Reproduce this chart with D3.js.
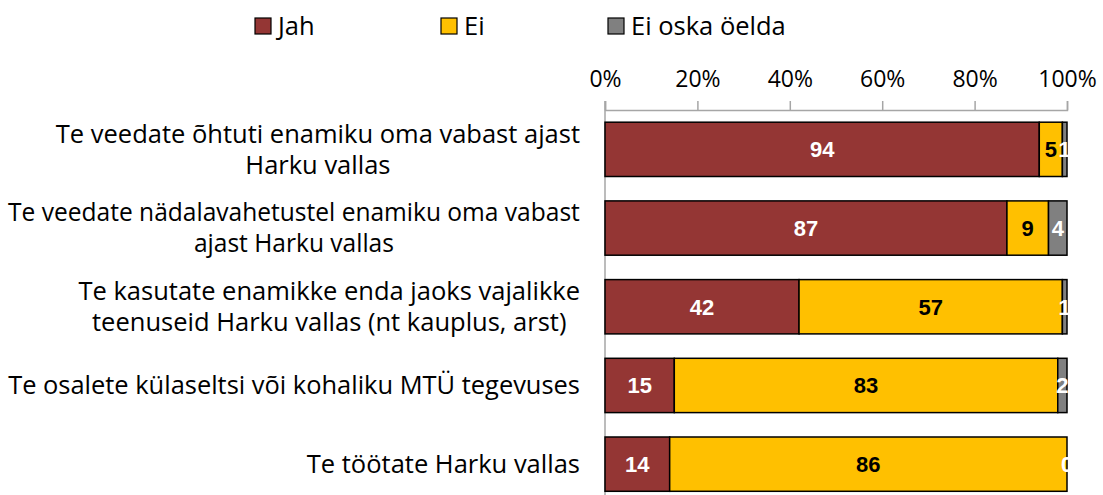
<!DOCTYPE html>
<html>
<head>
<meta charset="utf-8">
<script src="https://cdn.jsdelivr.net/npm/d3@7"></script>
<style>
  body { margin: 0; background: #fff; }
  svg { display: block; }
</style>
</head>
<body>
<script>
// data
const categories = [
    ["Te veedate õhtuti enamiku oma vabast ajast", "Harku vallas"],
    ["Te veedate nädalavahetustel enamiku oma vabast", "ajast Harku vallas"],
    ["Te kasutate enamikke enda jaoks vajalikke", "teenuseid Harku vallas (nt kauplus, arst)"],
    ["Te osalete külaseltsi või kohaliku MTÜ tegevuses"],
    ["Te töötate Harku vallas"]
];
const seriesNames = ["Jah", "Ei", "Ei oska öelda"];
const jah = [94, 87, 42, 15, 14];
const ei = [5, 9, 57, 83, 86];
const eiOska = [1, 4, 1, 2, 0];
const tickValues = [0, 20, 40, 60, 80, 100];

const colors = ["#943634", "#FFC000", "#808080"];
const labelColors = ["#fff", "#000", "#fff"];
const font = "'Open Sans', Lato, sans-serif";

const width = 1103, height = 495;
const margin = {top: 110, left: 605, right: 36};

const rows = categories.map((c, i) => ({idx: i, "Jah": jah[i], "Ei": ei[i], "Ei oska öelda": eiOska[i]}));

const svg = d3.select("body").append("svg")
    .attr("width", width)
    .attr("height", height);

const x = d3.scaleLinear()
    .domain([0, 100])
    .range([margin.left, width - margin.right]);

const y = d3.scaleBand()
    .domain(d3.range(categories.length))
    .range([margin.top, margin.top + 78.7 * categories.length])
    .paddingInner(0.31)
    .paddingOuter(0.155);

// top axis
const xaxis = d3.axisTop(x)
    .tickValues(tickValues)
    .tickFormat(d => d + "%")
    .tickSize(9)
    .tickPadding(14);

const gx = svg.append("g")
    .attr("transform", `translate(0, ${margin.top})`)
    .call(xaxis);
gx.select(".domain").attr("stroke", "#a6a6a6").attr("stroke-width", 1.5);
gx.selectAll(".tick line").attr("stroke", "#a6a6a6").attr("stroke-width", 1.5);
gx.selectAll(".tick text")
    .attr("font-family", font)
    .attr("font-size", 23)
    .attr("fill", "#000");

// left axis line
svg.append("line")
    .attr("x1", x(0)).attr("x2", x(0))
    .attr("y1", margin.top - 9).attr("y2", height)
    .attr("stroke", "#a6a6a6")
    .attr("stroke-width", 1.5);

const stack = d3.stack().keys(seriesNames);
const stacked = stack(rows);

const layers = svg.selectAll("g.layer")
    .data(stacked)
    .enter()
    .append("g")
    .attr("class", "layer")
    .attr("fill", (d, i) => colors[i]);

layers.selectAll("rect")
    .data(d => d)
    .enter()
    .append("rect")
    .attr("x", d => x(d[0]))
    .attr("y", d => y(d.data.idx))
    .attr("width", d => x(d[1]) - x(d[0]))
    .attr("height", y.bandwidth())
    .attr("stroke", "#000")
    .attr("stroke-width", 1.5);

// value labels
stacked.forEach((layer, si) => {
    svg.append("g")
        .selectAll("text")
        .data(layer)
        .enter()
        .append("text")
        .attr("x", d => (x(d[0]) + x(d[1])) / 2)
        .attr("y", d => y(d.data.idx) + y.bandwidth() / 2)
        .attr("dy", "0.36em")
        .attr("text-anchor", "middle")
        .attr("font-family", "'Liberation Sans', Arial, sans-serif")
        .attr("font-weight", "bold")
        .attr("font-size", 22)
        .attr("fill", labelColors[si])
        .text(d => d[1] - d[0]);
});

// category labels
categories.forEach((lines, i) => {
    const cy = y(i) + y.bandwidth() / 2;
    const lh = 31;
    const t = svg.append("text")
        .attr("font-family", font)
        .attr("font-size", 25.5)
        .attr("fill", "#000")
        .attr("text-anchor", "middle");
    lines.forEach((ln, j) => {
        t.append("tspan")
            .attr("x", 0)
            .attr("y", cy + (j - (lines.length - 1) / 2) * lh)
            .attr("dy", "0.35em")
            .text(ln);
    });
    // shrink if too wide, then center lines on the widest one, right edge at 580
    let w = t.node().getBBox().width;
    if (w > 572) {
        t.attr("font-size", 25.5 * 572 / w);
        w = t.node().getBBox().width;
    }
    t.selectAll("tspan").attr("x", 580 - w / 2);
});

// legend
const legendX = [255, 441, 608];
const legend = svg.selectAll("g.legend")
    .data(seriesNames)
    .enter()
    .append("g")
    .attr("class", "legend")
    .attr("transform", (d, i) => `translate(${legendX[i]}, 18)`);

legend.append("rect")
    .attr("width", 16)
    .attr("height", 16)
    .attr("fill", (d, i) => colors[i])
    .attr("stroke", "#000")
    .attr("stroke-width", 1.2);

legend.append("text")
    .attr("x", 23)
    .attr("y", 8)
    .attr("dy", "0.36em")
    .attr("font-family", font)
    .attr("font-size", 25.5)
    .attr("fill", "#000")
    .text(d => d);
</script>
</body>
</html>
